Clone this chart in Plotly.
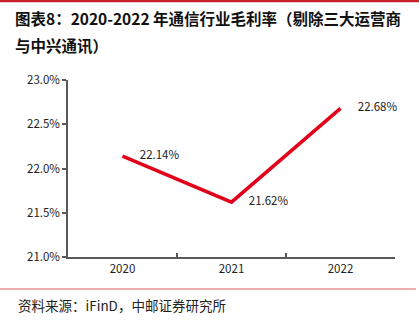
import plotly.graph_objects as go

years = ["2020", "2021", "2022"]
margin_pct = [22.14, 21.62, 22.68]
label_text = ["22.14%", "21.62%", "22.68%"]
y_ticks = [21.0, 21.5, 22.0, 22.5, 23.0]
y_tick_text = ["21.0%", "21.5%", "22.0%", "22.5%", "23.0%"]

W, H = 419, 332
L, R, T, B = 68, 24, 80, 75
pw, ph = W - L - R, H - T - B

def px_x(x):
    return (x - L) / pw

def px_y(y):
    return (H - B - y) / ph

fig = go.Figure()
fig.add_trace(go.Scatter(
    x=years, y=margin_pct, mode="lines+markers+text",
    line=dict(color="#e2001a", width=3.5),
    marker=dict(size=26, color="rgba(0,0,0,0)"),
    text=label_text, textposition="middle right",
    textfont=dict(family="Noto Sans CJK SC, DejaVu Sans", size=11.5, color="#222222"),
    cliponaxis=False, showlegend=False, hoverinfo="skip",
))

fig.update_layout(
    width=W, height=H,
    margin=dict(l=L, r=R, t=T, b=B),
    paper_bgcolor="white", plot_bgcolor="white",
    xaxis=dict(
        type="category", range=[-0.5, 2.5],
        showline=True, linecolor="#595959", linewidth=1.5,
        ticks="inside", tickson="boundaries", ticklen=4, tickcolor="#595959", tickwidth=1.5,
        showgrid=False, zeroline=False,
        tickfont=dict(family="Noto Sans CJK SC, DejaVu Sans", size=11.5, color="#222222"),
    ),
    yaxis=dict(
        range=[21.0, 23.0], tickvals=y_ticks, ticktext=y_tick_text,
        showline=True, linecolor="#595959", linewidth=1.5,
        ticks="outside", ticklen=4, tickcolor="#595959", tickwidth=1.5,
        showgrid=False, zeroline=False,
        tickfont=dict(family="Noto Sans CJK SC, DejaVu Sans", size=11.5, color="#222222"),
    ),
)

fig.add_shape(type="line", xref="paper", yref="paper",
              x0=px_x(0), x1=px_x(W), y0=px_y(1), y1=px_y(1),
              line=dict(color="#c8202a", width=2.5))
fig.add_shape(type="line", xref="paper", yref="paper",
              x0=px_x(0), x1=px_x(416), y0=px_y(289), y1=px_y(289),
              line=dict(color="#e06060", width=1.2))

title_font = dict(family="Noto Sans CJK SC", size=15.5, color="#111111")
fig.add_annotation(xref="paper", yref="paper", x=px_x(13), y=px_y(18),
                   xanchor="left", yanchor="middle", showarrow=False,
                   text="<b>图表8：2020-2022 年通信行业毛利率（剔除三大运营商</b>",
                   font=title_font)
fig.add_annotation(xref="paper", yref="paper", x=px_x(13), y=px_y(45),
                   xanchor="left", yanchor="middle", showarrow=False,
                   text="<b>与中兴通讯）</b>", font=title_font)
fig.add_annotation(xref="paper", yref="paper", x=px_x(16), y=px_y(305),
                   xanchor="left", yanchor="middle", showarrow=False,
                   text="资料来源：iFinD，中邮证券研究所",
                   font=dict(family="Noto Sans CJK SC", size=13.5, color="#222222"))

fig.write_html("out.html")
